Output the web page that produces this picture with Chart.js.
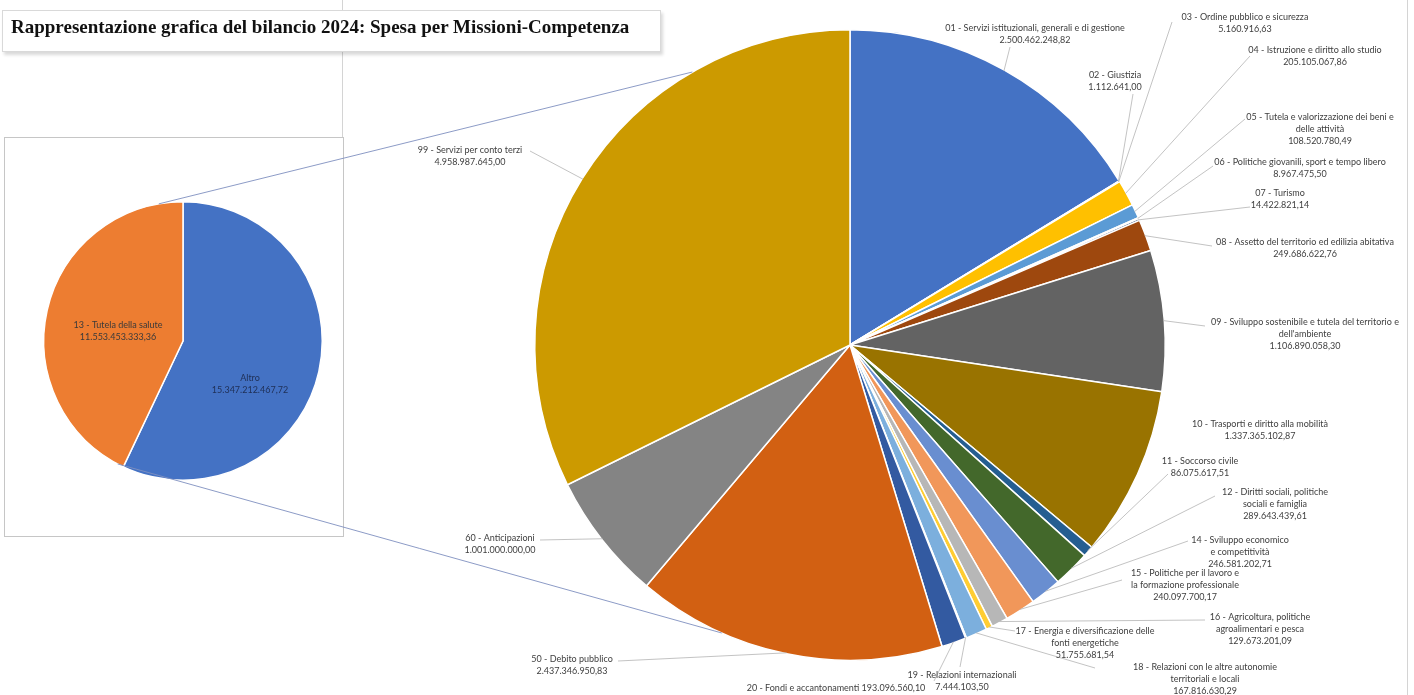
<!DOCTYPE html>
<html>
<head>
<meta charset="utf-8">
<title>Bilancio 2024 - Spesa per Missioni</title>
<script src="https://cdn.jsdelivr.net/npm/chart.js@4.4.1/dist/chart.umd.min.js"></script>
<style>
  html, body { margin: 0; padding: 0; background: #fff; }
  #page { position: relative; width: 1414px; height: 695px; overflow: hidden; background: #fff; }
  #page canvas { position: absolute; left: 0; top: 0; }
  .vline { position: absolute; width: 0; border-left: 1px solid #d4d4d4; }
  #frameLeft { position: absolute; left: 4px; top: 137px; width: 338px; height: 398px; border: 1px solid #c6c6c6; }
  #title {
    position: absolute; left: 2px; top: 10px; width: 659px; height: 42px; box-sizing: border-box;
    border: 1px solid #d9d9d9; background: #fff; box-shadow: 2px 3px 3px rgba(0,0,0,0.15);
    font: bold 19px "Liberation Serif", "Times New Roman", serif; color: #111;
    line-height: 22px; padding: 5px 0 0 8px; z-index: 5; white-space: nowrap;
  }
</style>
</head>
<body>
<div id="page">
  <div class="vline" style="left:342px; top:0; height:137px;"></div>
  <div class="vline" style="left:1407px; top:0; height:695px;"></div>
  <div id="frameLeft"></div>
  <canvas id="torta1" width="1414" height="695"></canvas>
  <canvas id="torta2" width="1414" height="695"></canvas>
  <div id="title">Rappresentazione grafica del bilancio 2024: Spesa per Missioni-Competenza</div>
</div>

<script>
// torta principale
const voci1 = ['Altro', '13 - Tutela della salute'];
const spesa1 = [15347212467.72, 11553453333.36];
const colori1 = ['#4472C4', '#ED7D31'];

// torta secondaria (dettaglio di "Altro")
const missioni = [
  '01 - Servizi istituzionali, generali e di gestione',
  '02 - Giustizia',
  '03 - Ordine pubblico e sicurezza',
  '04 - Istruzione e diritto allo studio',
  '05 - Tutela e valorizzazione dei beni e\ndelle attività',
  '06 - Politiche giovanili, sport e tempo libero',
  '07 - Turismo',
  '08 - Assetto del territorio ed edilizia abitativa',
  '09 - Sviluppo sostenibile e tutela del territorio e\ndell\'ambiente',
  '10 - Trasporti e diritto alla mobilità',
  '11 - Soccorso civile',
  '12 - Diritti sociali, politiche\nsociali e famiglia',
  '14 - Sviluppo economico\ne competitività',
  '15 - Politiche per il lavoro e\nla formazione professionale',
  '16 - Agricoltura, politiche\nagroalimentari e pesca',
  '17 - Energia e diversificazione delle\nfonti energetiche',
  '18 - Relazioni con le altre autonomie\nterritoriali e locali',
  '19 - Relazioni internazionali',
  '20 - Fondi e accantonamenti',
  '50 - Debito pubblico',
  '60 - Anticipazioni',
  '99 - Servizi per conto terzi'
];
const spesa = [
  2500462248.82, 1112641.00, 5160916.63, 205105067.86, 108520780.49,
  8967475.50, 14422821.14, 249686622.76, 1106890058.30, 1337365102.87,
  86075617.51, 289643439.61, 246581202.71, 240097700.17, 129673201.09,
  51755681.54, 167816630.29, 7444103.50, 193096560.10, 2437346950.83,
  1001000000.00, 4958987645.00
];
const colori = [
  '#4472C4', '#ED7D31', '#A5A5A5', '#FFC000', '#5B9BD5',
  '#70AD47', '#264478', '#9E480E', '#636363', '#997300',
  '#255E91', '#43682B', '#698ED0', '#F1975A', '#B7B7B7',
  '#FFCD33', '#7CAFDD', '#8CC168', '#335AA1', '#D26012',
  '#848484', '#CC9A00'
];

// dove stanno le etichette: [centro x, y prima riga, inizio linea guida x, y, valore sulla stessa riga]
const posEtichette = [
  [1035, 28, 1010, 47], [1115, 75, 1133, 94], [1245, 17, 1172, 22], [1315, 50, 1250, 56],
  [1320, 117, 1245, 119], [1300, 162, 1213, 166], [1280, 193, 1250, 207], [1305, 242, 1212, 246],
  [1305, 322, 1205, 326], [1260, 424, null, null], [1200, 461, 1168, 474], [1275, 492, 1215, 496],
  [1240, 540, 1188, 541], [1185, 573, 1122, 580], [1260, 617, 1205, 620], [1085, 631, 1015, 631],
  [1205, 667, 1095, 668], [962, 675, 960, 667], [836, 688, 934, 681, true], [572, 659, 618, 661],
  [500, 538, 540, 540], [470, 150, 530, 151]
];
const posEtichette1 = [[250, 378], [118, 325]];
// linee di collegamento tra le due torte (gradi da ore 12, senso orario)
const collegamenti = [[350, 330], [208, 204]];

function euro(v) {
  const parts = v.toFixed(2).split('.');
  return parts[0].replace(/\B(?=(\d{3})+(?!\d))/g, '.') + ',' + parts[1];
}

function puntoArco(arc, gradi) {
  const a = (gradi - 90) * Math.PI / 180;
  return [arc.x + Math.cos(a) * arc.outerRadius, arc.y + Math.sin(a) * arc.outerRadius];
}

const FONT = '9px Lato';
const RIGA = 12;

const etichette1 = {
  id: 'etichette1',
  afterDatasetsDraw(chart) {
    const ctx = chart.ctx;
    ctx.save();
    ctx.font = FONT;
    ctx.textAlign = 'center';
    ctx.textBaseline = 'middle';
    voci1.forEach((v, i) => {
      const p = posEtichette1[i];
      ctx.fillStyle = i === 0 ? '#1f2f55' : '#3a3a3a';
      ctx.fillText(v, p[0], p[1]);
      ctx.fillText(euro(spesa1[i]), p[0], p[1] + RIGA);
    });
    ctx.restore();
  }
};

const etichette2 = {
  id: 'etichette2',
  afterDatasetsDraw(chart) {
    const ctx = chart.ctx;
    const arcs = chart.getDatasetMeta(0).data;
    ctx.save();
    // linee guida
    ctx.strokeStyle = '#b4b4b4';
    ctx.lineWidth = 0.8;
    arcs.forEach((arc, i) => {
      const p = posEtichette[i];
      if (p[2] === null) return;
      const mid = (arc.startAngle + arc.endAngle) / 2;
      const r = arc.outerRadius - 1;
      ctx.beginPath();
      ctx.moveTo(p[2], p[3]);
      ctx.lineTo(arc.x + Math.cos(mid) * r, arc.y + Math.sin(mid) * r);
      ctx.stroke();
    });
    // testi
    ctx.font = FONT;
    ctx.fillStyle = '#404040';
    ctx.textAlign = 'center';
    ctx.textBaseline = 'middle';
    arcs.forEach((arc, i) => {
      const p = posEtichette[i];
      let righe = missioni[i].split('\n');
      if (p[4]) righe[righe.length - 1] += ' ' + euro(spesa[i]);
      else righe.push(euro(spesa[i]));
      righe.forEach((t, k) => ctx.fillText(t, p[0], p[1] + k * RIGA));
    });
    // collegamenti con la torta principale
    const a1 = torta1.getDatasetMeta(0).data[0];
    const a2 = arcs[0];
    ctx.strokeStyle = '#7f90c0';
    ctx.lineWidth = 0.9;
    collegamenti.forEach(c => {
      const s = puntoArco(a1, c[0]);
      const e = puntoArco(a2, c[1]);
      ctx.beginPath();
      ctx.moveTo(s[0], s[1]);
      ctx.lineTo(e[0], e[1]);
      ctx.stroke();
    });
    ctx.restore();
  }
};

const torta1 = new Chart(document.getElementById('torta1'), {
  type: 'pie',
  data: {
    labels: voci1,
    datasets: [{ data: spesa1, backgroundColor: colori1, borderColor: '#fff', borderWidth: 1.5 }]
  },
  options: {
    responsive: false,
    animation: false,
    layout: { padding: { left: 43, right: 1091, top: 201, bottom: 214 } },
    plugins: { legend: { display: false }, tooltip: { enabled: false } }
  },
  plugins: [etichette1]
});

const torta2 = new Chart(document.getElementById('torta2'), {
  type: 'pie',
  data: {
    labels: missioni,
    datasets: [{ data: spesa, backgroundColor: colori, borderColor: '#fff', borderWidth: 1.5 }]
  },
  options: {
    responsive: false,
    animation: false,
    layout: { padding: { left: 534, right: 248, top: 29, bottom: 34 } },
    plugins: { legend: { display: false }, tooltip: { enabled: false } }
  },
  plugins: [etichette2]
});
</script>
</body>
</html>
